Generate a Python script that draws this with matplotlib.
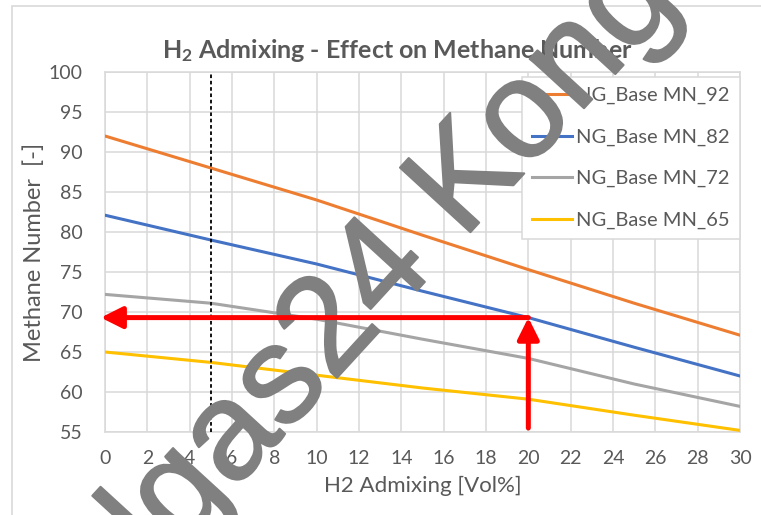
import matplotlib.pyplot as plt
import matplotlib.patheffects as pe
from matplotlib.patches import Rectangle

plt.rcParams['font.family'] = ['Lato', 'DejaVu Sans']
plt.rcParams['mathtext.fontset'] = 'custom'
plt.rcParams['mathtext.rm'] = 'Lato:bold'
plt.rcParams['mathtext.it'] = 'Lato:bold'
plt.rcParams['mathtext.bf'] = 'Lato:bold'

# H2 share in vol% and methane number for each base gas
h2_vol = [0, 5, 10, 15, 20, 25, 30]
mn_92 = [92, 88, 84, 79.6, 75.3, 71.1, 67.1]
mn_82 = [82.1, 79, 76, 72.6, 69.3, 65.6, 62]
mn_72 = [72.2, 71.1, 69.1, 66.6, 64.2, 61.0, 58.2]
mn_65 = [65, 63.7, 62.1, 60.5, 59.1, 57.1, 55.2]
series_labels = ['NG_Base MN_92', 'NG_Base MN_82', 'NG_Base MN_72', 'NG_Base MN_65']

x_ticks = list(range(0, 31, 2))
y_ticks = list(range(55, 101, 5))

marker_h2 = 5      # dotted reference line
read_h2 = 20       # read-off example
read_mn = 69.3
arrow_base = 55.5

txt = '#595959'
grid = '#D9D9D9'
colors = ['#ED7D31', '#4472C4', '#A5A5A5', '#FFC000']

fig = plt.figure(figsize=(7.61, 5.15), dpi=100)
ax = fig.add_axes([105 / 761, 83 / 515, 635 / 761, 360 / 515])

# chart area frame
frame = Rectangle((12 / 761, -0.1), 1.0, 1 - 6 / 515 + 0.1,
                  transform=fig.transFigure, fill=False,
                  edgecolor=grid, lw=1.2, zorder=-1)
fig.patches.append(frame)

for ys, c, lab in zip([mn_92, mn_82, mn_72, mn_65], colors, series_labels):
    ax.plot(h2_vol, ys, color=c, lw=2.2, label=lab, zorder=3)

ax.set_xlim(0, 30)
ax.set_ylim(55, 100)
ax.set_xticks(x_ticks)
ax.set_yticks(y_ticks)
ax.grid(True, color=grid, lw=1.1)
ax.set_axisbelow(True)
for s in ax.spines.values():
    s.set_color(grid)
    s.set_linewidth(1.1)
ax.tick_params(length=0, labelsize=14, labelcolor=txt)
ax.tick_params(axis='y', pad=16)
ax.tick_params(axis='x', pad=13)

ax.set_ylabel('Methane Number  [-]', fontsize=17, color=txt, labelpad=3)
ax.set_xlabel('H2 Admixing [Vol%]', fontsize=16, color=txt, labelpad=6)
ax.text(397 / 761, 1 - 58 / 515, r'H$_2$ Admixing - Effect on Methane Number',
        transform=fig.transFigure, ha='center', va='baseline', fontsize=18,
        fontweight='bold', color=txt, zorder=3, clip_on=False)

leg = ax.legend(loc='upper right', bbox_to_anchor=(1.0, 1 - 5 / 360),
                borderaxespad=0, fontsize=14.5, frameon=True, fancybox=False,
                handlelength=2.0, handletextpad=0.2, labelspacing=1.2,
                borderpad=0.5, labelcolor=txt, framealpha=1)
leg.get_frame().set_edgecolor(grid)
leg.get_frame().set_linewidth(1.1)
leg.set_zorder(4)

ax.axvline(marker_h2, color='black', lw=1.3, ls=(0, (2, 1.5)), zorder=3)

# overlay lettering, above lines and legend
wm_x, wm_y = 181 / 761, 1 - 548 / 515
wm_kw = dict(transform=fig.transFigure, fontsize=100, color='#808080',
             rotation=47.5, rotation_mode='anchor', va='baseline',
             family='Liberation Sans', zorder=5, clip_on=False,
             path_effects=[pe.withStroke(linewidth=1.5, foreground='#808080')])
ax.text(wm_x, wm_y, 'gas24 Kongress', ha='left', **wm_kw)
ax.text(wm_x, wm_y, 'Erd', ha='right', **wm_kw)

# read-off arrows on top
arrow_kw = dict(arrowstyle='-|>,head_length=1.0,head_width=0.5',
                mutation_scale=13, color='red', lw=3.6,
                shrinkA=0, shrinkB=0)
ax.annotate('', xy=(read_h2, read_mn), xytext=(read_h2, arrow_base),
            arrowprops=arrow_kw, annotation_clip=False, zorder=6)
ax.annotate('', xy=(-0.2, read_mn), xytext=(read_h2, read_mn),
            arrowprops=arrow_kw, annotation_clip=False, zorder=6)

fig.savefig('out.png', dpi=100)
